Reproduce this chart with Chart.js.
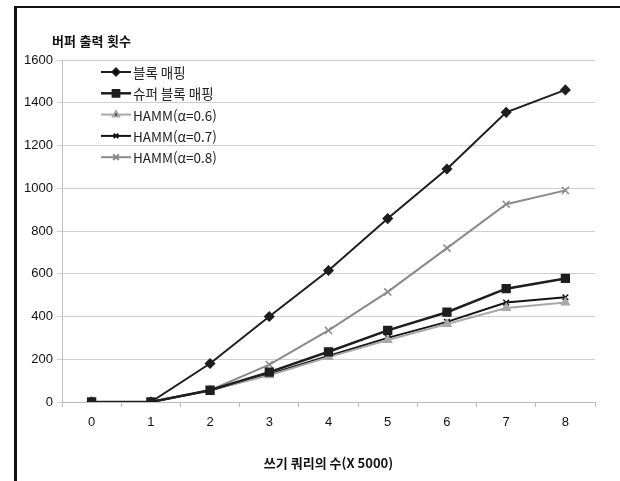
<!DOCTYPE html>
<html lang="ko">
  <head>
    <meta charset="UTF-8" />
    <title>버퍼 출력 횟수</title>
    <script src="https://cdn.jsdelivr.net/npm/chart.js"></script>
    <style>
      body {
        margin: 0;
        padding: 0;
        background: #fff;
      }
      .frame {
        position: relative;
        width: 620px;
        height: 481px;
      }
      .frame .edge-top {
        position: absolute;
        left: 14px;
        top: 6px;
        width: 606px;
        height: 2px;
        background: #111;
      }
      .frame .edge-left {
        position: absolute;
        left: 14px;
        top: 6px;
        width: 3px;
        height: 475px;
        background: #111;
      }
      .ytitle {
        position: absolute;
        left: 52px;
        top: 31px;
        font-family: "Noto Sans CJK KR", sans-serif;
        font-weight: bold;
        font-size: 13px;
        color: #111;
      }
    </style>
  </head>
  <body>
    <div class="frame">
      <canvas id="chart" width="620" height="481"></canvas>
      <div class="edge-top"></div>
      <div class="edge-left"></div>
      <div class="ytitle">버퍼 출력 횟수</div>
    </div>

    <script>
      // data
      const categories = ["0", "1", "2", "3", "4", "5", "6", "7", "8"];
      const seriesNames = ["블록 매핑", "슈퍼 블록 매핑", "HAMM(α=0.6)", "HAMM(α=0.7)", "HAMM(α=0.8)"];
      const blockMapping = [0, 0, 180, 400, 615, 858, 1090, 1355, 1460];
      const superBlockMapping = [0, 0, 55, 140, 235, 335, 420, 530, 578];
      const hamm06 = [0, 0, 55, 125, 210, 290, 365, 440, 465];
      const hamm07 = [0, 0, 55, 130, 215, 300, 375, 465, 490];
      const hamm08 = [0, 0, 55, 175, 335, 515, 720, 925, 990];
      const yTicks = [0, 200, 400, 600, 800, 1000, 1200, 1400, 1600];

      const styles = [
        { color: "#1e1e1e", point: "rectRot", radius: 4.5, width: 2 },
        { color: "#1e1e1e", point: "rect", radius: 5.5, width: 2.5 },
        { color: "#a8a8a8", point: "triangle", radius: 4.5, width: 2 },
        { color: "#141414", point: "crossRot", radius: 4, width: 2 },
        { color: "#8a8a8a", point: "crossRot", radius: 5, width: 2 },
      ];
      const values = [blockMapping, superBlockMapping, hamm06, hamm07, hamm08];

      const datasets = values.map((v, i) => ({
        label: seriesNames[i],
        data: v,
        borderColor: styles[i].color,
        backgroundColor: styles[i].color,
        borderWidth: styles[i].width,
        pointStyle: styles[i].point,
        pointRadius: styles[i].radius,
        pointBorderWidth: 1.5,
        pointBorderColor: styles[i].color,
        pointBackgroundColor: styles[i].color,
        tension: 0,
        fill: false,
      }));

      // legend drawn inside the plot area, top-left
      const innerLegend = {
        id: "innerLegend",
        afterDraw(chart) {
          const ctx = chart.ctx;
          ctx.save();
          chart.data.datasets.forEach((ds, i) => {
            const y = 72 + i * 21.3;
            ctx.strokeStyle = ds.borderColor;
            ctx.lineWidth = ds.borderWidth;
            ctx.beginPath();
            ctx.moveTo(101, y);
            ctx.lineTo(131, y);
            ctx.stroke();
            Chart.helpers.drawPoint(
              ctx,
              { pointStyle: ds.pointStyle, radius: ds.pointRadius * 0.8, borderWidth: 1.5 },
              116,
              y
            );
            ctx.fillStyle = "#222";
            ctx.font = '13.5px "Noto Sans CJK KR", "Liberation Sans", sans-serif';
            ctx.textBaseline = "middle";
            ctx.textAlign = "left";
            ctx.fillText(ds.label, 133, y + 1);
          });
          ctx.restore();
        },
      };

      new Chart(document.getElementById("chart"), {
        type: "line",
        data: { labels: categories, datasets: datasets },
        plugins: [innerLegend],
        options: {
          responsive: false,
          animation: false,
          layout: { padding: { left: 15, right: 25, top: 60, bottom: 0 } },
          plugins: {
            legend: { display: false },
            tooltip: { enabled: false },
          },
          scales: {
            x: {
              offset: true,
              grid: {
                offset: true,
                drawOnChartArea: false,
                drawTicks: true,
                tickLength: 5,
                color: "#bbb",
              },
              border: { color: "#bbb" },
              ticks: {
                color: "#111",
                padding: 8,
                font: { family: "Liberation Sans", size: 13 },
              },
              title: {
                display: true,
                text: "쓰기 쿼리의 수(X 5000)",
                color: "#111",
                padding: { top: 4, bottom: 10 },
                font: { family: "Noto Sans CJK KR", size: 13, weight: "bold" },
              },
              afterFit: (s) => {
                s.height = 79;
              },
            },
            y: {
              min: 0,
              max: 1600,
              afterBuildTicks: (s) => {
                s.ticks = yTicks.map((v) => ({ value: v }));
              },
              grid: {
                color: "#cfcfcf",
                drawTicks: true,
                tickLength: 5,
              },
              border: { color: "#bbb" },
              ticks: {
                color: "#111",
                padding: 4,
                font: { family: "Liberation Sans", size: 13 },
                callback: (v) => String(v),
              },
              afterFit: (s) => {
                s.width = 47;
              },
            },
          },
        },
      });
    </script>
  </body>
</html>
